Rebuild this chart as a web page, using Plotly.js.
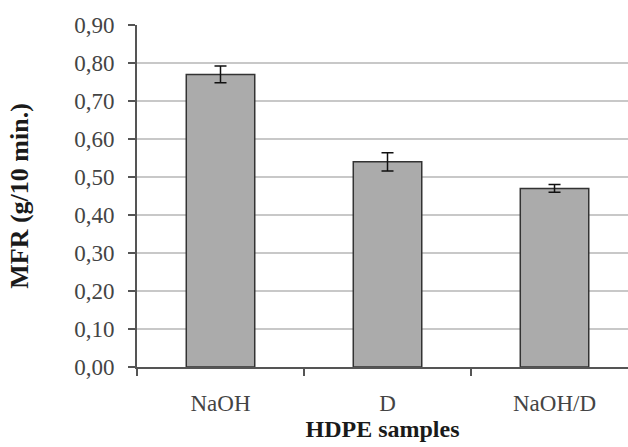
<!DOCTYPE html>
<html>
<head>
<meta charset="utf-8">
<script src="https://cdn.plot.ly/plotly-3.0.1.min.js"></script>
<style>html,body{margin:0;padding:0;background:#fff;}#chart{width:628px;height:447px;}</style>
</head>
<body>
<div id="chart"></div>
<script>
const categories = ["NaOH", "D", "NaOH/D"];
const mfrValues = [0.77, 0.54, 0.47];
const mfrErrors = [0.022, 0.024, 0.01];
const yTickValues = [0, 0.1, 0.2, 0.3, 0.4, 0.5, 0.6, 0.7, 0.8, 0.9];
const yTickLabels = ["0,00", "0,10", "0,20", "0,30", "0,40", "0,50", "0,60", "0,70", "0,80", "0,90"];

const trace = {
  type: "bar",
  x: categories,
  y: mfrValues,
  width: 0.41,
  marker: { color: "#ababab", line: { color: "#333333", width: 1.5 } },
  error_y: { type: "data", array: mfrErrors, visible: true, color: "#111111", thickness: 1.5, width: 6 },
  hoverinfo: "none"
};

const layout = {
  width: 628, height: 447,
  margin: { l: 137, r: 0, t: 25, b: 80 },
  paper_bgcolor: "#ffffff",
  plot_bgcolor: "#ffffff",
  showlegend: false,
  font: { family: "Liberation Serif, Times New Roman, serif", color: "#444444" },
  xaxis: {
    type: "category",
    range: [-0.5, 2.44],
    showgrid: false,
    showline: true, linecolor: "#555555", linewidth: 2,
    ticks: "outside", tickson: "boundaries", ticklen: 7, tickwidth: 2, tickcolor: "#555555",
    tickfont: { size: 23, color: "#444444" },
    ticklabelstandoff: 14,
    title: { text: "<b>HDPE samples</b>", font: { size: 24, color: "#1a1a1a" }, standoff: 2 },
    automargin: false
  },
  yaxis: {
    range: [0, 0.9],
    tickvals: yTickValues,
    ticktext: yTickLabels,
    showgrid: true, gridcolor: "#c8c8c8", gridwidth: 1.5,
    showline: true, linecolor: "#555555", linewidth: 2,
    ticks: "outside", ticklen: 7, tickwidth: 2, tickcolor: "#555555",
    tickfont: { size: 23, color: "#444444" },
    ticklabelstandoff: 9,
    zeroline: false,
    title: { text: "<b>MFR (g/10 min.)</b>", font: { size: 26, color: "#1a1a1a" }, standoff: 38 },
    automargin: false
  }
};

Plotly.newPlot("chart", [trace], layout, { displayModeBar: false, staticPlot: true });
</script>
</body>
</html>
